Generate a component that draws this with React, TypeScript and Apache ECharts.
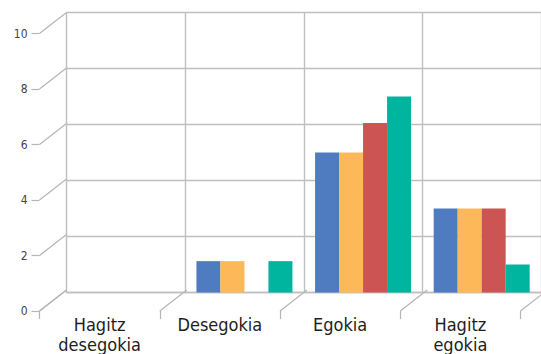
import React, { useEffect, useRef } from "react";
import * as echarts from "echarts";

const categories = ["Hagitz\ndesegokia", "Desegokia", "Egokia", "Hagitz\negokia"];
const seriesA = [0, 1.12, 5, 3];
const seriesB = [0, 1.12, 5, 3];
const seriesC = [0, 0, 6.05, 3];
const seriesD = [0, 1.12, 7, 1];
const seriesColors = ["#4f7cc0", "#fdb85a", "#cc5453", "#00b5a0"];
const yTicks = [0, 2, 4, 6, 8, 10];

const DX = 27;
const DY = 21;
const GRID_LINE = "#bfbfc1";
const FONT = "'DejaVu Sans Condensed', 'DejaVu Sans', sans-serif";

export default function App() {
  const ref = useRef<HTMLDivElement>(null);

  useEffect(() => {
    if (!ref.current) return;
    const chart = echarts.init(ref.current, null, { renderer: "svg" });
    const boundaries = categories.map((_, i) => i).concat([categories.length]);

    const barSeries = [seriesA, seriesB, seriesC, seriesD].map((data, i) => ({
      type: "bar",
      name: "S" + (i + 1),
      xAxisIndex: 0,
      yAxisIndex: 0,
      data,
      barWidth: 24,
      barGap: "0%",
      itemStyle: { color: seriesColors[i] },
      z: 3,
    }));

    chart.setOption({
      animation: false,
      backgroundColor: "#ffffff",
      grid: [
        { left: 66.5, top: 12.5, width: 481, height: 280 },
        { left: 39.5, top: 33.5, width: 481, height: 280 },
      ],
      xAxis: [
        {
          type: "category",
          gridIndex: 0,
          data: categories,
          axisLine: { show: true, lineStyle: { color: GRID_LINE, width: 1.4 } },
          axisTick: { show: false },
          axisLabel: { show: false },
          splitLine: { show: true, interval: 0, lineStyle: { color: GRID_LINE, width: 1.4 } },
        },
        {
          type: "category",
          gridIndex: 1,
          data: categories,
          axisLine: { show: false },
          axisTick: { show: true, length: 8, interval: 0, lineStyle: { color: "#b5b5b5", width: 1.2 } },
          axisLabel: {
            show: true,
            interval: 0,
            margin: 3,
            fontFamily: FONT,
            fontSize: 18,
            lineHeight: 20,
            color: "#1e1e1e",
          },
          splitLine: { show: false },
        },
      ],
      yAxis: [
        {
          type: "value",
          gridIndex: 0,
          min: 0,
          max: 10,
          interval: 2,
          axisLine: { show: false },
          axisTick: { show: false },
          axisLabel: { show: false },
          splitLine: { show: true, lineStyle: { color: GRID_LINE, width: 1.4 } },
        },
        {
          type: "value",
          gridIndex: 1,
          min: 0,
          max: 10,
          interval: 2,
          axisLine: { show: false },
          axisTick: { show: true, length: 8, lineStyle: { color: "#b5b5b5", width: 1.2 } },
          axisLabel: {
            show: true,
            margin: 12,
            fontFamily: FONT,
            fontSize: 12,
            color: "#444444",
          },
          splitLine: { show: false },
        },
      ],
      series: [
        ...barSeries,
        {
          type: "custom",
          xAxisIndex: 1,
          yAxisIndex: 1,
          data: yTicks.map((v) => [0, v]),
          silent: true,
          z: 1,
          renderItem: (params: any, api: any) => {
            const cs = params.coordSys;
            const y = api.coord([0, api.value(1)])[1];
            const x = cs.x;
            return {
              type: "line",
              shape: { x1: x, y1: y, x2: x + DX, y2: y - DY },
              style: { stroke: "#b5b5b5", lineWidth: 1.2 },
            };
          },
        },
        {
          type: "custom",
          xAxisIndex: 1,
          yAxisIndex: 1,
          data: boundaries.map((b) => [0, 0, b]),
          silent: true,
          z: 1,
          renderItem: (params: any, api: any) => {
            const cs = params.coordSys;
            const b = api.value(2);
            const x = cs.x + (b * cs.width) / categories.length;
            const y = cs.y + cs.height;
            return {
              type: "line",
              shape: { x1: x, y1: y, x2: x + DX, y2: y - DY },
              style: { stroke: "#b5b5b5", lineWidth: 1.2 },
            };
          },
        },
      ],
    });

    return () => chart.dispose();
  }, []);

  return (
    <div
      ref={ref}
      style={{ position: "absolute", left: 0, top: 0, width: 541, height: 354 }}
    />
  );
}
